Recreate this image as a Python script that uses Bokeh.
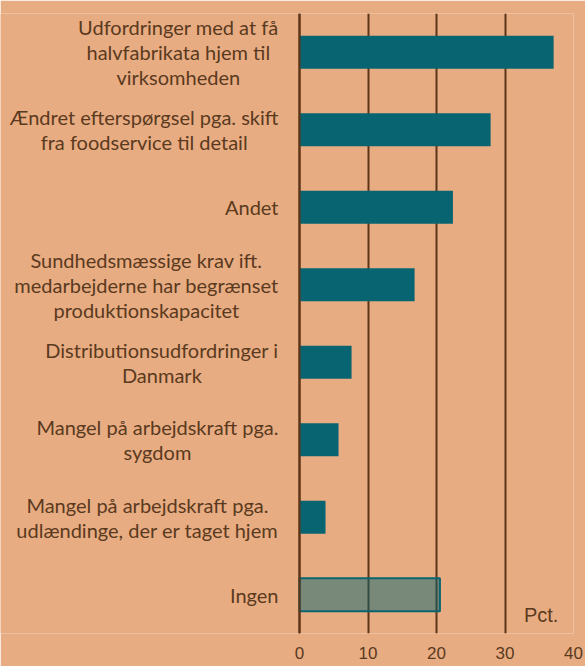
from bokeh.plotting import figure
from bokeh.models import ColumnDataSource, FactorRange, Range1d, Label, FixedTicker, Span
from bokeh.embed import file_html
from bokeh.resources import INLINE

categories = [
    "Udfordringer med at få\nhalvfabrikata hjem til\nvirksomheden",
    "Ændret efterspørgsel pga. skift\nfra foodservice til detail",
    "Andet",
    "Sundhedsmæssige krav ift.\nmedarbejderne har begrænset\nproduktionskapacitet",
    "Distributionsudfordringer i\nDanmark",
    "Mangel på arbejdskraft pga.\nsygdom",
    "Mangel på arbejdskraft pga.\nudlændinge, der er taget hjem",
    "Ingen",
]
values = [37.1, 27.9, 22.4, 16.8, 7.6, 5.7, 3.8, 20.5]
highlight = [False, False, False, False, False, False, False, True]
x_ticks = [0, 10, 20, 30, 40]
unit_label = "Pct."

BG = "#E8AC82"
TEAL = "#086470"
BROWN = "#5C3418"
TEXT = "#5A3A1E"

W, H = 585, 666
LABEL_SPACE = 299   # pixels reserved left of the value axis for category labels
RIGHT_PAD = 12
x_max = 40
px_per_unit = (W - LABEL_SPACE - RIGHT_PAD) / x_max
x_min = -LABEL_SPACE / px_per_unit

fill_alpha = [0.5 if h else 1.0 for h in highlight]
line_alpha = [1.0 if h else 0.0 for h in highlight]

source = ColumnDataSource(dict(cat=categories, val=values, fa=fill_alpha, la=line_alpha))

n = len(categories)
p = figure(
    width=W, height=H,
    y_range=FactorRange(factors=list(reversed(categories)), range_padding=0),
    x_range=Range1d(x_min, x_max),
    output_backend="svg", toolbar_location=None,
    min_border_left=0, min_border_right=RIGHT_PAD, min_border_top=13, min_border_bottom=33,
)
p.background_fill_color = BG
p.border_fill_color = BG
p.outline_line_color = None

p.hbar(y="cat", right="val", left=0, height=0.426, source=source,
       fill_color=TEAL, fill_alpha="fa", line_color=TEAL, line_alpha="la", line_width=2)

p.ygrid.grid_line_color = None
p.xgrid.grid_line_color = BROWN
p.xgrid.grid_line_width = 2
p.xaxis.ticker = FixedTicker(ticks=x_ticks)

p.xaxis.axis_line_color = None
p.xaxis.major_tick_line_color = None
p.xaxis.minor_tick_line_color = None
p.xaxis.major_tick_out = 0
p.xaxis.major_tick_in = 0
p.xaxis.major_label_standoff = 13
p.xaxis.major_label_text_font = "Liberation Sans"
p.xaxis.major_label_text_font_size = "17px"
p.xaxis.major_label_text_color = TEXT

p.yaxis.visible = False

# value axis line drawn over the bars
p.add_layout(Span(location=0, dimension="height", line_color=BROWN, line_width=2, level="overlay"))

# category labels: block right-anchored next to the axis, lines centred within the block
for i, cat in enumerate(categories):
    p.add_layout(Label(
        x=0, y=(n - 1 - i) + 0.5, x_offset=-21, text=cat,
        anchor="center_right", text_align="center",
        text_font="Lato", text_font_size="20px", text_color=TEXT,
        text_line_height=1.05,
    ))

p.add_layout(Label(x=37.8, y=0.24, text=unit_label, text_align="right", text_baseline="middle",
                   text_font="Liberation Sans", text_font_size="20px", text_color=TEXT))

open("out.html", "w").write(file_html(p, INLINE))
